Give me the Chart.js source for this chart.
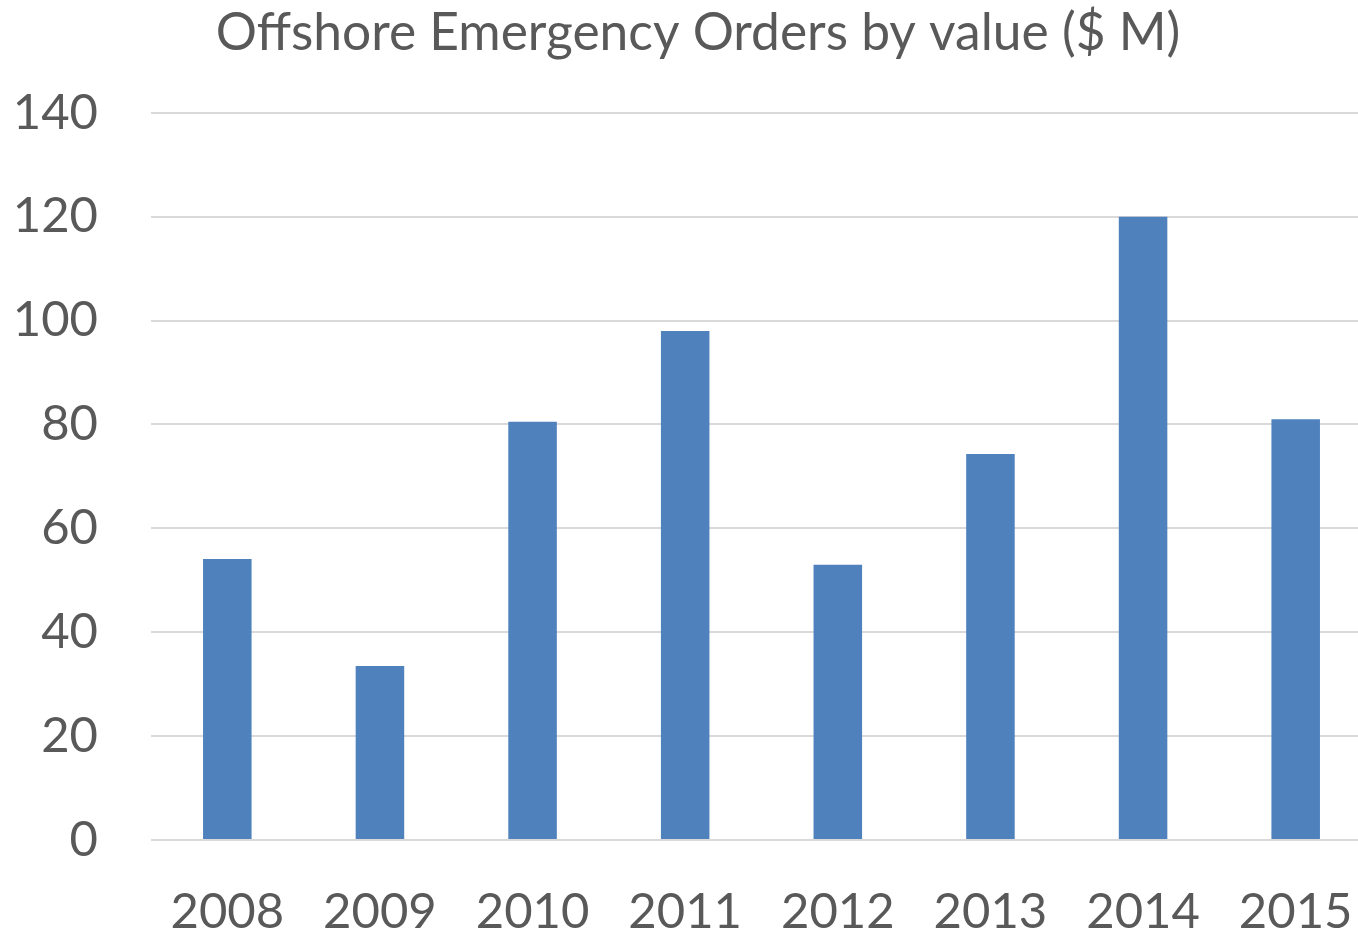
<!DOCTYPE html>
<html>
<head>
<meta charset="utf-8">
<script src="https://cdn.jsdelivr.net/npm/chart.js@4/dist/chart.umd.min.js"></script>
<style>
html,body{margin:0;padding:0;background:#fff;overflow:hidden;}
canvas{display:block;}
</style>
</head>
<body>
<canvas id="c" width="1358" height="936"></canvas>
<script>
const categories = ["2008","2009","2010","2011","2012","2013","2014","2015"];
const orderValues = [54.1, 33.5, 80.5, 98.0, 53.0, 74.3, 120.0, 81.0];
const titleText = "Offshore Emergency Orders by value ($ M)";
const yMin = 0, yMax = 140, yStep = 20;

const textColor = "#595959";
const fontFamily = "Lato, 'Open Sans', sans-serif";

// plot area runs past the right edge of the picture, as in the original
const extendRight = {
  id: "extendRight",
  afterLayout(chart) {
    const extra = 14;
    const a = chart.chartArea;
    a.right += extra; a.width += extra;
    const x = chart.scales.x;
    x.right += extra; x.width += extra;
    x.configure();
  }
};

new Chart(document.getElementById("c"), {
  type: "bar",
  data: {
    labels: categories,
    datasets: [{
      data: orderValues,
      backgroundColor: "#4f81bd",
      borderWidth: 0,
      barPercentage: 0.318,
      categoryPercentage: 1.0
    }]
  },
  options: {
    responsive: false,
    maintainAspectRatio: false,
    animation: false,
    devicePixelRatio: 1,
    layout: { padding: { left: 38, right: 0, top: 2, bottom: 0 } },
    plugins: {
      legend: { display: false },
      tooltip: { enabled: false },
      title: {
        display: true,
        text: titleText,
        color: textColor,
        font: { family: fontFamily, size: 51.5, weight: "normal" },
        padding: { top: 0, bottom: 49 }
      }
    },
    scales: {
      x: {
        afterFit: (s) => { s.height = 96; s.paddingLeft = 0; s.paddingRight = 0; },
        grid: { display: false, drawTicks: false },
        border: { display: false },
        ticks: { color: textColor, font: { family: fontFamily, size: 49 }, padding: 43, maxRotation: 0 }
      },
      y: {
        min: yMin, max: yMax,
        afterFit: (s) => {
          s.width = 113; s.paddingTop = 0; s.paddingBottom = 0;
          s._computeLabelArea = function () { return undefined; };
        },
        grid: { color: "#d9d9d9", lineWidth: 2, drawTicks: false },
        border: { display: false },
        ticks: { stepSize: yStep, color: textColor, font: { family: fontFamily, size: 49 }, padding: 53 }
      }
    }
  },
  plugins: [extendRight]
});
</script>
</body>
</html>
